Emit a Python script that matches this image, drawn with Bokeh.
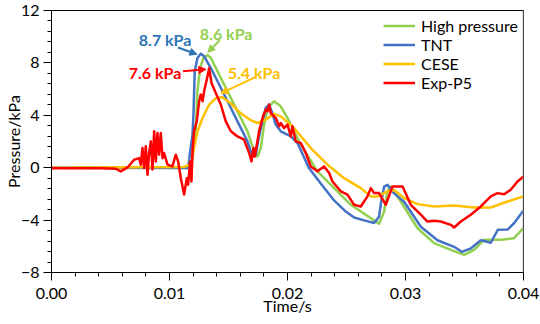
import numpy as np
from bokeh.plotting import figure
from bokeh.models import (Range1d, FixedTicker, NumeralTickFormatter, Legend, LegendItem,
                          Label, Arrow, NormalHead, Span)
from bokeh.embed import file_html
from bokeh.resources import INLINE

# ---------------- data (time in s, pressure in kPa) ----------------
t_hp = [0, 0.0101, 0.0118, 0.01195, 0.01223, 0.01237, 0.01259, 0.01288, 0.01322, 0.0135,
        0.01407, 0.01492, 0.01576, 0.01661, 0.01717, 0.01746, 0.01774, 0.01797, 0.0183, 0.01886,
        0.01943, 0.02, 0.02113, 0.02254, 0.02395, 0.02536, 0.02706, 0.02776, 0.02819, 0.02847,
        0.02875, 0.0296, 0.03102, 0.03242, 0.03384, 0.03497, 0.03581, 0.03666, 0.03808, 0.0392, 0.04]
p_hp = [0, 0, -0.03, 0.73, 3.03, 5.83, 7.61, 8.38, 8.60, 8.38,
        7.36, 5.83, 4.30, 2.78, 1.25, 0.86, 1.50, 3.03, 4.56, 5.07,
        4.69, 3.79, 1.76, -0.28, -1.56, -2.83, -3.85, -4.28, -3.34, -1.81,
        -1.43, -2.58, -4.62, -5.76, -6.27, -6.65, -6.27, -5.50, -5.50, -5.38, -4.60]

t_tnt = [0, 0.0101, 0.01153, 0.01166, 0.01175, 0.01195, 0.01203, 0.01208, 0.01214, 0.01237,
         0.01265, 0.01293, 0.0135, 0.01407, 0.01492, 0.01576, 0.01661, 0.01703, 0.01731, 0.01751,
         0.01774, 0.01816, 0.01844, 0.0187, 0.019, 0.01943, 0.02028, 0.02085, 0.0214, 0.0218,
         0.02282, 0.02395, 0.02494, 0.02565, 0.02649, 0.02734, 0.02776, 0.02791, 0.02819, 0.02847,
         0.02903, 0.02988, 0.0313, 0.03271, 0.03412, 0.03477, 0.03553, 0.03638, 0.03723, 0.03782,
         0.03864, 0.0392, 0.04]
p_tnt = [0, -0.02, -0.03, 0.48, 1.25, 2.52, 4.05, 5.58, 7.36, 8.38,
         8.70, 8.51, 7.61, 6.60, 5.07, 3.54, 2.01, 0.86, 0.99, 2.01,
         3.03, 4.56, 4.82, 4.20, 3.29, 2.78, 2.39, 1.88, 0.80, 0.0,
         -1.20, -2.50, -3.35, -3.80, -4.02, -4.22, -3.75, -2.73, -1.45, -1.31,
         -1.96, -2.60, -4.51, -5.54, -6.04, -6.42, -6.17, -5.54, -5.73, -4.74,
         -4.72, -4.24, -3.26]

t_cese = [0, 0.008, 0.0112, 0.0118, 0.01208, 0.01237, 0.0128, 0.01336, 0.01392, 0.01449,
          0.0152, 0.01604, 0.01689, 0.01746, 0.01816, 0.01886, 0.01943, 0.02056, 0.02197, 0.02339,
          0.0248, 0.02621, 0.02706, 0.02763, 0.02847, 0.02903, 0.02988, 0.03102, 0.03242, 0.03412,
          0.03581, 0.03723, 0.03864, 0.04]
p_cese = [0, 0.03, 0.05, 0.23, 1.50, 2.78, 3.79, 4.82, 5.30, 5.38,
          4.90, 4.15, 3.62, 3.41, 3.67, 4.11, 3.92, 3.03, 1.50, 0.23,
          -0.80, -1.56, -2.19, -2.19, -1.81, -1.70, -2.32, -2.78, -2.96, -2.88,
          -3.04, -3.04, -2.58, -2.19]

t_exp = [0, 0.00418, 0.00545, 0.00587, 0.00644, 0.007, 0.00742, 0.00757, 0.00771, 0.00785,
         0.00799, 0.00814, 0.00827, 0.00842, 0.00856, 0.0087, 0.00884, 0.00898, 0.00912, 0.00926,
         0.00941, 0.00954, 0.00983, 0.01025, 0.01053, 0.01073, 0.01096, 0.01124, 0.01147, 0.01158,
         0.01175, 0.01186, 0.01195, 0.01208, 0.01231, 0.01251, 0.01265, 0.0128, 0.01293, 0.01316,
         0.01336, 0.01356, 0.01392, 0.01435, 0.01477, 0.0152, 0.01576, 0.01632, 0.01675, 0.01695,
         0.01712, 0.01723, 0.0174, 0.01759, 0.01774, 0.01797, 0.01816, 0.0183, 0.01844, 0.01858,
         0.01901, 0.01929, 0.01943, 0.01971, 0.02, 0.02028, 0.02042, 0.0207, 0.02113, 0.02155,
         0.02197, 0.02254, 0.0231, 0.02353, 0.02381, 0.02452, 0.02508, 0.02564, 0.02621, 0.02678,
         0.02706, 0.02734, 0.02776, 0.02833, 0.0289, 0.02932, 0.02975, 0.03045, 0.0313, 0.03186,
         0.03242, 0.03299, 0.03384, 0.03412, 0.03469, 0.03553, 0.03638, 0.03723, 0.0378, 0.03836,
         0.03892, 0.03949, 0.04]
p_exp = [-0.04, -0.05, -0.08, -0.28, 0.02, 0.61, 0.73, 0.23, 1.50, -0.03,
         1.63, -0.54, 1.12, 2.01, -0.13, 2.78, 0.48, 2.65, 0.99, 2.65,
         0.73, 1.12, 0.23, 0.10, 0.99, 0.48, -0.80, -2.04, -0.80, -1.30,
         0.48, -1.05, 1.25, 2.78, 3.54, 5.07, 5.58, 5.07, 5.83, 6.73,
         7.59, 6.47, 5.70, 4.82, 3.54, 2.78, 2.39, 2.14, 1.12, 0.48,
         1.50, 0.86, 1.76, 2.78, 3.29, 4.05, 4.43, 4.30, 4.82, 4.17,
         3.79, 3.16, 3.41, 3.03, 3.29, 2.39, 3.16, 2.01, 1.88, 1.12,
         0.10, -0.28, 0.10, -0.41, -1.05, -1.81, -2.06, -2.83, -2.96, -2.19,
         -1.56, -1.94, -1.94, -2.83, -1.43, -1.43, -1.43, -2.83, -3.59, -4.11,
         -4.05, -4.11, -4.36, -4.56, -4.11, -3.59, -2.96, -2.19, -1.94, -2.02,
         -1.68, -1.05, -0.67]

series_names = ["High pressure", "TNT", "CESE", "Exp-P5"]
series_colors = ["#92D050", "#4472C4", "#FFC000", "#FF0000"]

x_ticks = [0.0, 0.01, 0.02, 0.03, 0.04]
y_ticks = [-8, -4, 0, 4, 8, 12]

# peak annotations: text, colour, text anchor (left/middle), arrow tail, arrow head
annotations = [
    ("8.7 kPa", "#2E75B6", (0.0074, 9.81), (0.01071, 9.18), (0.01232, 8.66)),
    ("8.6 kPa", "#92D050", (0.01257, 10.27), (0.01426, 9.73), (0.01325, 8.81)),
    ("7.6 kPa", "#FF0000", (0.00655, 7.29), (0.01114, 7.36), (0.01308, 7.51)),
    ("5.4 kPa", "#FFC000", (0.01494, 7.29), (0.01723, 6.90), (0.01435, 5.68)),
]

FONT = "Lato"

p = figure(width=540, height=324, output_backend="svg", toolbar_location=None,
           x_range=Range1d(0, 0.04), y_range=Range1d(-8, 12),
           min_border_left=51, min_border_right=17, min_border_top=10, min_border_bottom=52)
p.background_fill_color = "white"
p.border_fill_color = "white"
p.xgrid.visible = False
p.ygrid.visible = False
p.outline_line_color = "black"
p.outline_line_width = 1

xs = [t_hp, t_tnt, t_cese, t_exp]
ys = [p_hp, p_tnt, p_cese, p_exp]
renderers = []
for x, y, c in zip(xs, ys, series_colors):
    r = p.line(x, y, line_color=c, line_width=2.5, line_join="round")
    renderers.append(r)

p.add_layout(Span(location=0.04, dimension="height", line_color="#8c8c8c", line_width=1.5))

# axes
p.xaxis.ticker = FixedTicker(ticks=x_ticks,
                             minor_ticks=[round(v, 4) for v in np.arange(0, 0.0401, 0.002)])
p.xaxis.formatter = NumeralTickFormatter(format="0.00")
p.yaxis.ticker = FixedTicker(ticks=y_ticks,
                             minor_ticks=[round(v, 2) for v in np.arange(-8, 12.01, 0.8)])
p.xaxis.axis_label = "Time/s"
p.yaxis.axis_label = "Pressure/kPa"
for ax in (p.xaxis[0], p.yaxis[0]):
    ax.axis_line_color = "black"
    ax.axis_line_width = 1
    ax.major_tick_line_color = "black"
    ax.minor_tick_line_color = "black"
    ax.major_tick_out = 8
    ax.major_tick_in = 0
    ax.minor_tick_out = 4
    ax.minor_tick_in = 0
    ax.major_label_text_font = FONT
    ax.major_label_text_font_size = "16px"
    ax.major_label_text_color = "black"
    ax.axis_label_text_font = FONT
    ax.axis_label_text_font_size = "16px"
    ax.axis_label_text_font_style = "normal"
    ax.axis_label_text_color = "black"
p.xaxis.major_label_standoff = 7
p.xaxis.axis_label_standoff = -6
p.yaxis.major_label_standoff = 4
p.yaxis.axis_label_standoff = -5

# legend
items = [LegendItem(label=n, renderers=[r]) for n, r in zip(series_names, renderers)]
legend = Legend(items=items, location=(332, 180), orientation="vertical",
                glyph_width=32, glyph_height=17, label_height=17, label_standoff=6,
                spacing=0, padding=0, margin=0,
                label_text_font=FONT, label_text_font_size="16px", label_text_color="black",
                border_line_alpha=0, background_fill_alpha=0)
p.add_layout(legend)

# annotations
for text, col, (tx, ty), tail, head in annotations:
    p.add_layout(Label(x=tx, y=ty, text=text, text_color=col, text_font=FONT,
                       text_font_size="16px", text_font_style="bold",
                       text_align="left", text_baseline="middle"))
    p.add_layout(Arrow(x_start=tail[0], y_start=tail[1], x_end=head[0], y_end=head[1],
                       line_color=col, line_width=2,
                       end=NormalHead(size=7, fill_color=col, line_color=col)))

open("out.html", "w").write(file_html(p, INLINE))
